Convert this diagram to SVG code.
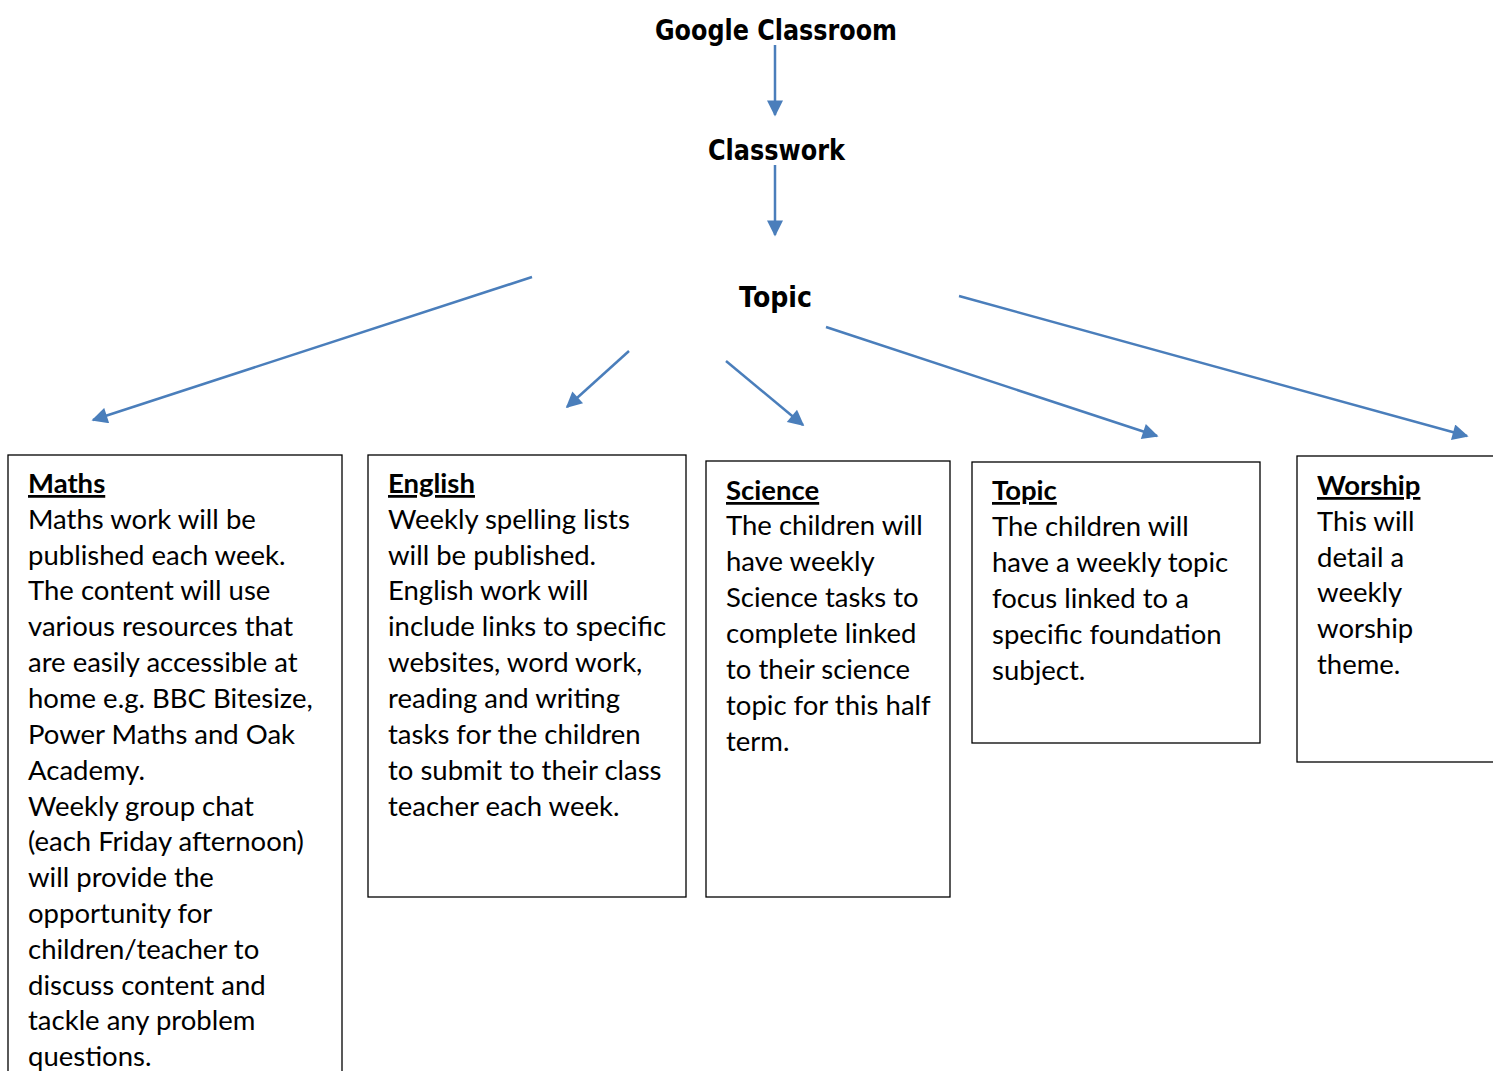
<svg xmlns="http://www.w3.org/2000/svg" width="1493" height="1071" viewBox="0 0 1493 1071">
<style>
.title{font-family:"Comic Sans MS","DejaVu Sans",sans-serif;font-weight:bold;font-size:28px;fill:#000}
.body{font-family:Lato,"Liberation Sans",sans-serif;font-size:27.5px;fill:#000}
.head{font-weight:bold;text-decoration:underline}
.box{fill:#fff;stroke:#000;stroke-width:1.3}
.conn{stroke:#4a7ebb;stroke-width:2.5;fill:none;marker-end:url(#ah)}
</style>
<defs>
<marker id="ah" viewBox="0 0 10 10" refX="9" refY="5" markerUnits="userSpaceOnUse" markerWidth="19" markerHeight="16" orient="auto">
<path d="M0,0 L10,5 L0,10 z" fill="#4a7ebb"/>
</marker>
</defs>
<rect width="1493" height="1071" fill="#fff"/>
<g id="google-classroom"><text class="title" x="655" y="40" textLength="242" lengthAdjust="spacingAndGlyphs">Google Classroom</text></g>
<g id="classwork"><text class="title" x="708" y="160" textLength="137" lengthAdjust="spacingAndGlyphs">Classwork</text></g>
<g id="topic-root"><text class="title" x="739" y="307" textLength="73" lengthAdjust="spacingAndGlyphs">Topic</text></g>
<g id="connectors">
<line class="conn" x1="775" y1="45" x2="775" y2="115"/>
<line class="conn" x1="775" y1="165" x2="775" y2="235"/>
<line class="conn" x1="532" y1="277" x2="93" y2="420"/>
<line class="conn" x1="629" y1="351" x2="567" y2="407"/>
<line class="conn" x1="726" y1="361" x2="803" y2="425"/>
<line class="conn" x1="826" y1="327" x2="1157" y2="436"/>
<line class="conn" x1="959" y1="296" x2="1467" y2="436"/>
</g>
<g id="maths">
<rect class="box" x="8" y="455" width="334" height="640"/>
<text class="body" x="28">
<tspan class="head" x="28" y="493">Maths</tspan>
<tspan x="28" y="529">Maths work will be</tspan>
<tspan x="28" y="565">published each week.</tspan>
<tspan x="28" y="600">The content will use</tspan>
<tspan x="28" y="636">various resources that</tspan>
<tspan x="28" y="672">are easily accessible at</tspan>
<tspan x="28" y="708">home e.g. BBC Bitesize,</tspan>
<tspan x="28" y="744">Power Maths and Oak</tspan>
<tspan x="28" y="780">Academy.</tspan>
<tspan x="28" y="816">Weekly group chat</tspan>
<tspan x="28" y="851">(each Friday afternoon)</tspan>
<tspan x="28" y="887">will provide the</tspan>
<tspan x="28" y="923">opportunity for</tspan>
<tspan x="28" y="959">children/teacher to</tspan>
<tspan x="28" y="995">discuss content and</tspan>
<tspan x="28" y="1030">tackle any problem</tspan>
<tspan x="28" y="1066">questions.</tspan>
</text>
</g>
<g id="english">
<rect class="box" x="368" y="455" width="318" height="442"/>
<text class="body">
<tspan class="head" x="388" y="493">English</tspan>
<tspan x="388" y="529">Weekly spelling lists</tspan>
<tspan x="388" y="565">will be published.</tspan>
<tspan x="388" y="600">English work will</tspan>
<tspan x="388" y="636">include links to specific</tspan>
<tspan x="388" y="672">websites, word work,</tspan>
<tspan x="388" y="708">reading and writing</tspan>
<tspan x="388" y="744">tasks for the children</tspan>
<tspan x="388" y="780">to submit to their class</tspan>
<tspan x="388" y="816">teacher each week.</tspan>
</text>
</g>
<g id="science">
<rect class="box" x="706" y="461" width="244" height="436"/>
<text class="body">
<tspan class="head" x="726" y="500">Science</tspan>
<tspan x="726" y="535">The children will</tspan>
<tspan x="726" y="571">have weekly</tspan>
<tspan x="726" y="607">Science tasks to</tspan>
<tspan x="726" y="643">complete linked</tspan>
<tspan x="726" y="679">to their science</tspan>
<tspan x="726" y="715">topic for this half</tspan>
<tspan x="726" y="751">term.</tspan>
</text>
</g>
<g id="topic">
<rect class="box" x="972" y="462" width="288" height="281"/>
<text class="body">
<tspan class="head" x="992" y="500">Topic</tspan>
<tspan x="992" y="536">The children will</tspan>
<tspan x="992" y="572">have a weekly topic</tspan>
<tspan x="992" y="608">focus linked to a</tspan>
<tspan x="992" y="644">specific foundation</tspan>
<tspan x="992" y="680">subject.</tspan>
</text>
</g>
<g id="worship">
<rect class="box" x="1297" y="456" width="220" height="306"/>
<text class="body">
<tspan class="head" x="1317" y="495">Worship</tspan>
<tspan x="1317" y="531">This will</tspan>
<tspan x="1317" y="567">detail a</tspan>
<tspan x="1317" y="602">weekly</tspan>
<tspan x="1317" y="638">worship</tspan>
<tspan x="1317" y="674">theme.</tspan>
</text>
</g>
</svg>
